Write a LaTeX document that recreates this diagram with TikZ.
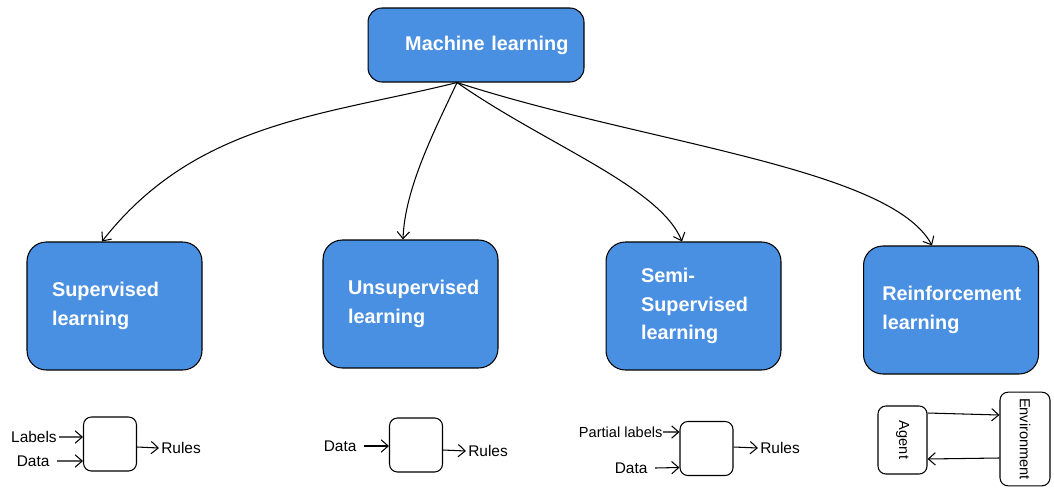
\documentclass[tikz,border=0pt]{standalone}
\usepackage{fontspec}
\setmainfont{Liberation Sans}
\usetikzlibrary{arrows.meta, positioning}
\definecolor{mlblue}{RGB}{74,144,226}
\tikzset{
x=0.02cm, y=-0.02cm, % one unit is one pixel of the sketch
>={Straight Barb[length=4pt, width=7pt]}, % open arrow heads
every path/.style={semithick},
bigbox/.style={draw, fill=mlblue, text=white, rounded corners=11pt, minimum width=3.5cm, minimum height=2.56cm, align=left, text width=2.5cm, font=\bfseries\fontsize{11.3}{16.4}\selectfont}, % the four kinds of learning
topbox/.style={bigbox, rounded corners=8pt, minimum width=4.32cm, minimum height=1.48cm, text width=3.7cm, align=right}, % the root
smallbox/.style={draw, rounded corners=4.5pt, minimum width=1.06cm, minimum height=1.08cm}, % the black boxes
lbl/.style={inner sep=1pt, font=\fontsize{8.8}{10}\selectfont}, % inputs and outputs
}
\begin{document}
\begin{tikzpicture}
    \useasboundingbox (0,0) rectangle (1054,487);
    \node[topbox] (ml) at (476,45) {Machine learning};
    \node[bigbox] (sup) at (114.5,306) {Supervised\\learning};
    \node[bigbox] (unsup) at (410.5,304) {Unsupervised\\learning};
    \node[bigbox, text width=2.1cm] (semi) at (693.5,306) {Semi-\\Supervised\\learning};
    \node[bigbox, text width=2.75cm] (reinf) at (951,310) {Reinforcement\\learning};
    \coordinate (mlout) at ([xshift=-0.38cm]ml.south);
    \draw
    (mlout) edge[->, out=194, in=52, out looseness=0.9] ([xshift=-0.25cm]sup.north)
    (mlout) edge[->, out=245, in=88, looseness=0.8] ([xshift=-0.15cm]unsup.north)
    (mlout) edge[->, out=-35, in=112, in looseness=0.55] ([xshift=-0.23cm]semi.north)
    (mlout) edge[->, out=-18, in=118, in looseness=0.45] ([xshift=-0.38cm]reinf.north);

    % supervised
    \node[smallbox] (box1) at (110,444) {};
    \node[lbl, anchor=east] (lab1) at (59,437) {Labels};
    \node[lbl, anchor=east, inner xsep=4pt] (data1) at (57,461) {Data};
    \node[lbl, anchor=west] (rules1) at (159,448) {Rules};
    \draw
    (lab1.east) edge[->] ([yshift=0.14cm]box1.west)
    (data1.east) edge[->] ([yshift=-0.34cm]box1.west)
    ([yshift=-0.06cm]box1.east) edge[->] (rules1.west);

    % unsupervised
    \node[smallbox] (box2) at (416,445) {};
    \node[lbl, anchor=east, inner xsep=4pt] (data2) at (364,446) {Data};
    \node[lbl, anchor=west] (rules2) at (466,451) {Rules};
    \draw
    (data2.east) edge[->] ([yshift=-0.02cm]box2.west)
    ([yshift=-0.1cm]box2.east) edge[->] (rules2.west);

    % semi-supervised
    \node[smallbox] (box3) at (706.5,448.5) {};
    \node[lbl, anchor=east, inner sep=0pt, font=\fontsize{8.3}{10}\selectfont] (lab3) at (663,432) {Partial labels};
    \node[lbl, anchor=east, inner xsep=4pt] (data3) at (655,468) {Data};
    \node[lbl, anchor=west] (rules3) at (758,448) {Rules};
    \draw
    (lab3.east) edge[->] ([yshift=0.33cm]box3.west)
    (data3.east) edge[->] ([yshift=-0.38cm]box3.west)
    ([yshift=0.03cm]box3.east) edge[->] (rules3.west);

    % reinforcement
    \node[smallbox, minimum width=0.98cm, minimum height=1.36cm, font=\fontsize{8.3}{10}\selectfont] (agent) at (902.5,440) {\rotatebox{-90}{Agent}};
    \node[smallbox, minimum width=1.0cm, minimum height=1.8cm, font=\fontsize{8.3}{10}\selectfont] (env) at (1025,439) {\rotatebox{-90}{Environment}};
    \draw
    ([yshift=0.54cm]agent.east) edge[->] ([yshift=0.48cm]env.west)
    ([yshift=-0.38cm]env.west) edge[->] ([yshift=-0.38cm]agent.east);
\end{tikzpicture}
\end{document}
